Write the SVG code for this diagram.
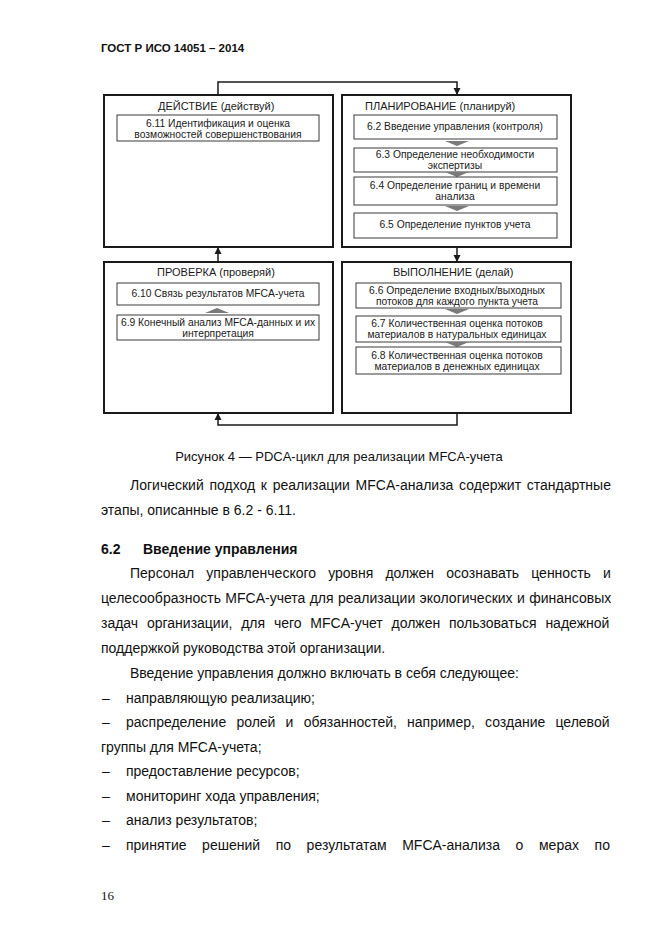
<svg xmlns="http://www.w3.org/2000/svg" xmlns:xlink="http://www.w3.org/1999/xlink" width="662" height="935" viewBox="0 0 662 935">
<style>
.page{fill:#fff}
.hdr{font-family:"Liberation Sans",Arial,sans-serif;font-size:11.5px;font-weight:bold;fill:#111}
.body{font-family:"Liberation Sans",Arial,sans-serif;font-size:14px;fill:#111}
.bold{font-weight:bold}
.cap{font-family:"Liberation Sans",Arial,sans-serif;font-size:13px;fill:#111}
.pg{font-family:"Liberation Serif","Times New Roman",serif;font-size:13px;fill:#111}
.outer{fill:#fff;stroke:#1a1a1a;stroke-width:2}
.inner{fill:#fff;stroke:#3a3a3a;stroke-width:1}
.ttl{font-family:"Liberation Sans",Arial,sans-serif;font-size:11px;fill:#1a1a1a}
.t{font-family:"Liberation Sans",Arial,sans-serif;font-size:10.3px;fill:#1a1a1a;text-anchor:middle}
.conn{fill:none;stroke:#1a1a1a;stroke-width:1.5}
.chev{fill:#7a7a7a}
</style>
<defs>
<marker id="ah" markerWidth="8" markerHeight="8" refX="7" refY="4" orient="auto" markerUnits="userSpaceOnUse">
<path d="M0,0.5 L7,4 L0,7.5 z" fill="#1a1a1a"/>
</marker>
<path id="chd" class="chev" d="M-12,0 H12 L0,5 Z"/>
<path id="chu" class="chev" d="M-12,5 H12 L0,0 Z"/>
</defs>
<rect class="page" x="0" y="0" width="662" height="935"/>

<text class="hdr" x="101" y="52">ГОСТ Р ИСО 14051 – 2014</text>

<g id="connectors">
<path class="conn" d="M218,95 V82 H457 V95" marker-end="url(#ah)"/>
<path class="conn" d="M457,247 V262" marker-end="url(#ah)"/>
<path class="conn" d="M218,262 V247" marker-end="url(#ah)"/>
<path class="conn" d="M457,413 V425 H218 V413" marker-end="url(#ah)"/>
</g>

<g id="act">
<rect class="outer" x="104" y="95" width="229" height="152"/>
<text class="ttl" x="158" y="110">ДЕЙСТВИЕ (действуй)</text>
<g id="n611">
<rect class="inner" x="117" y="115" width="202" height="26"/>
<text class="t" x="218" y="127">6.11 Идентификация и оценка</text>
<text class="t" x="218" y="138">возможностей совершенствования</text>
</g>
</g>

<g id="plan">
<rect class="outer" x="342" y="95" width="229" height="152"/>
<text class="ttl" x="365" y="110">ПЛАНИРОВАНИЕ (планируй)</text>
<g id="n62">
<rect class="inner" x="354" y="115" width="203" height="24"/>
<text class="t" x="455" y="130">6.2 Введение управления (контроля)</text>
</g>
<use xlink:href="#chd" x="457" y="141"/>
<g id="n63">
<rect class="inner" x="354" y="148" width="203" height="24"/>
<text class="t" x="455" y="158">6.3 Определение необходимости</text>
<text class="t" x="455" y="169">экспертизы</text>
</g>
<use xlink:href="#chd" x="457" y="172"/>
<g id="n64">
<rect class="inner" x="354" y="177" width="203" height="28"/>
<text class="t" x="455" y="189">6.4 Определение границ и времени</text>
<text class="t" x="455" y="200">анализа</text>
</g>
<use xlink:href="#chd" x="457" y="206"/>
<g id="n65">
<rect class="inner" x="354" y="213" width="203" height="25"/>
<text class="t" x="455" y="228">6.5 Определение пунктов учета</text>
</g>
</g>

<g id="check">
<rect class="outer" x="104" y="262" width="229" height="151"/>
<text class="ttl" x="157" y="276">ПРОВЕРКА (проверяй)</text>
<g id="n610">
<rect class="inner" x="117" y="283" width="202" height="22"/>
<text class="t" x="218" y="297">6.10 Связь результатов MFCA-учета</text>
</g>
<use xlink:href="#chu" x="217" y="308"/>
<g id="n69">
<rect class="inner" x="117" y="315" width="202" height="25"/>
<text class="t" x="218" y="326">6.9 Конечный анализ MFCA-данных и их</text>
<text class="t" x="218" y="337">интерпретация</text>
</g>
</g>

<g id="do">
<rect class="outer" x="342" y="262" width="229" height="151"/>
<text class="ttl" x="393" y="276">ВЫПОЛНЕНИЕ (делай)</text>
<g id="n66">
<rect class="inner" x="356" y="283" width="205" height="25"/>
<text class="t" x="457" y="294">6.6 Определение входных/выходных</text>
<text class="t" x="457" y="305">потоков для каждого пункта учета</text>
</g>
<use xlink:href="#chd" x="457" y="309"/>
<g id="n67">
<rect class="inner" x="356" y="316" width="205" height="26"/>
<text class="t" x="457" y="327">6.7 Количественная оценка потоков</text>
<text class="t" x="457" y="338">материалов в натуральных единицах</text>
</g>
<use xlink:href="#chd" x="457" y="342"/>
<g id="n68">
<rect class="inner" x="356" y="347" width="205" height="27"/>
<text class="t" x="457" y="359">6.8 Количественная оценка потоков</text>
<text class="t" x="457" y="370">материалов в денежных единицах</text>
</g>
</g>

<text class="cap" x="339" y="461" text-anchor="middle">Рисунок 4 — PDCA-цикл для реализации MFCA-учета</text>

<text class="body" x="130" y="490" word-spacing="1.8">Логический подход к реализации MFCA-анализа содержит стандартные</text>
<text class="body" x="101" y="515">этапы, описанные в 6.2 - 6.11.</text>
<text class="body bold" x="101" y="554">6.2</text>
<text class="body bold" x="143" y="554">Введение управления</text>
<text class="body" x="130" y="578" word-spacing="8.2">Персонал управленческого уровня должен осознавать ценность и</text>
<text class="body" x="101" y="603" word-spacing="0.5">целесообразность MFCA-учета для реализации экологических и финансовых</text>
<text class="body" x="101" y="628" word-spacing="4.9">задач организации, для чего MFCA-учет должен пользоваться надежной</text>
<text class="body" x="101" y="653">поддержкой руководства этой организации.</text>
<text class="body" x="130" y="678">Введение управления должно включать в себя следующее:</text>
<text class="body" x="102" y="703">–</text>
<text class="body" x="126" y="703">направляющую реализацию;</text>
<text class="body" x="102" y="727">–</text>
<text class="body" x="126" y="727" word-spacing="6.3">распределение ролей и обязанностей, например, создание целевой</text>
<text class="body" x="101" y="752">группы для MFCA-учета;</text>
<text class="body" x="102" y="776">–</text>
<text class="body" x="126" y="776">предоставление ресурсов;</text>
<text class="body" x="102" y="801">–</text>
<text class="body" x="126" y="801">мониторинг хода управления;</text>
<text class="body" x="102" y="825">–</text>
<text class="body" x="126" y="825">анализ результатов;</text>
<text class="body" x="102" y="850">–</text>
<text class="body" x="126" y="850" word-spacing="11.7">принятие решений по результатам MFCA-анализа о мерах по</text>
<text class="pg" x="101" y="900">16</text>
</svg>
